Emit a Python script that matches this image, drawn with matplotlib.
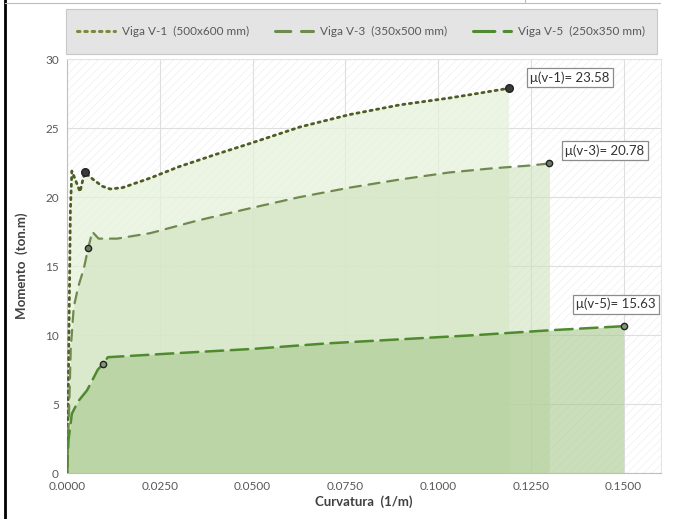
import matplotlib
matplotlib.use('Agg')
import matplotlib.pyplot as plt
from matplotlib.patches import Rectangle
from matplotlib.lines import Line2D

plt.rcParams['font.family'] = ['Lato', 'DejaVu Sans']
plt.rcParams['hatch.linewidth'] = 0.4
plt.rcParams['hatch.color'] = '#ececec'

# ── datos ───────────────────────────────────────────────────────
v1_x = [0.0, 0.0003, 0.0006, 0.0009, 0.0013, 0.0022, 0.0035, 0.0042, 0.0048,
        0.0070, 0.0095, 0.0116, 0.015, 0.0225, 0.030, 0.040, 0.0493, 0.0628,
        0.0762, 0.0897, 0.1031, 0.110, 0.119]
v1_y = [0.0, 5.0, 12.0, 19.0, 21.9, 21.3, 20.4, 21.2, 21.8,
        21.3, 20.8, 20.6, 20.7, 21.4, 22.2, 23.1, 23.9, 25.1,
        26.0, 26.7, 27.2, 27.5, 27.9]

v3_x = [0.0, 0.0005, 0.0010, 0.0018, 0.0030, 0.0045, 0.0057, 0.0068,
        0.0085, 0.0135, 0.0225, 0.035, 0.0493, 0.0625, 0.0762, 0.090,
        0.1031, 0.1147, 0.1247, 0.130]
v3_y = [0.0, 4.0, 9.0, 12.0, 13.5, 14.8, 16.3, 17.5,
        17.0, 17.0, 17.4, 18.3, 19.2, 20.0, 20.7, 21.3,
        21.8, 22.1, 22.3, 22.45]

v5_x = [0.0, 0.0004, 0.0013, 0.0030, 0.0054, 0.0083, 0.0097, 0.011,
        0.030, 0.050, 0.070, 0.090, 0.110, 0.130, 0.150]
v5_y = [0.0, 2.4, 4.3, 5.2, 6.0, 7.5, 7.9, 8.4,
        8.7, 9.0, 9.4, 9.7, 10.0, 10.35, 10.65]

labels = ['Viga V-1  (500x600 mm)', 'Viga V-3  (350x500 mm)', 'Viga V-5  (250x350 mm)']
ductilidad = ['23.58', '20.78', '15.63']
etiquetas_mu = ['(v-1)', '(v-3)', '(v-5)']

# puntos de fluencia (marcadores)
yield_x = [0.0048, 0.0057, 0.0097]
yield_y = [21.8, 16.3, 7.9]

x_ticks = [0.0, 0.025, 0.05, 0.075, 0.10, 0.125, 0.15]
x_tick_labels = ['0.0000', '0.0250', '0.0500', '0.0750', '0.1000', '0.1250', '0.1500']
y_ticks = [0, 5, 10, 15, 20, 25, 30]

# ── estilos ─────────────────────────────────────────────────────
line_colors = ['#4e5d23', '#6f8a4f', '#4f8a2e']
fill_colors = ['#e6f1da', '#cfe3bd', '#a9c98f']
fill_alpha = [0.75, 0.6, 0.6]
line_styles = [(0, (0.8, 1.6)), (0, (5, 3.5)), (0, (7, 3))]
line_widths = [2.0, 1.6, 1.8]
mk_colors = ['#3a3a3a', '#6b7b66', '#7f9977']
mk_sizes = [5.5, 4.5, 4.5]
label_pos = [(0.1355, 28.7), (0.1449, 23.4), (0.1480, 12.25)]

fig = plt.figure(figsize=(6.84, 5.19), dpi=100)
fig.patch.set_facecolor('white')
ax = fig.add_axes([0.098, 0.0886, 0.868, 0.797])
ax.set_facecolor('white')
ax.add_patch(Rectangle((0, 0), 1, 1, transform=ax.transAxes, facecolor='none',
                       edgecolor='#ececec', hatch='////', linewidth=0, zorder=0))

series = [(v1_x, v1_y), (v3_x, v3_y), (v5_x, v5_y)]
for i, (xs, ys) in enumerate(series):
    ax.fill_between(xs, 0, ys, color=fill_colors[i], alpha=fill_alpha[i],
                    linewidth=0, zorder=1 + i)
for i, (xs, ys) in enumerate(series):
    ax.plot(xs, ys, color=line_colors[i], linestyle=line_styles[i],
            linewidth=line_widths[i], dash_capstyle='round', zorder=5)
    ax.plot([yield_x[i], xs[-1]], [yield_y[i], ys[-1]], linestyle='none',
            marker='o', markersize=mk_sizes[i], markerfacecolor=mk_colors[i],
            markeredgecolor='#222222', markeredgewidth=1.0, zorder=6)
    ax.text(label_pos[i][0], label_pos[i][1],
            'μ' + etiquetas_mu[i] + '= ' + ductilidad[i],
            ha='center', va='center', fontsize=9.5, color='#333333',
            bbox=dict(boxstyle='square,pad=0.25', facecolor='white',
                      edgecolor='#8c8c8c', linewidth=0.9), zorder=7)

ax.set_xlim(0, 0.16)
ax.set_ylim(0, 30)
ax.set_xticks(x_ticks)
ax.set_xticklabels(x_tick_labels)
ax.set_yticks(y_ticks)
ax.tick_params(length=0, labelsize=8.5, labelcolor='#595959', pad=6)
ax.grid(True, color='#dedede', linewidth=0.8, zorder=0)
ax.set_axisbelow(True)
for s in ['top', 'right']:
    ax.spines[s].set_color('#e4e4e4')
for s in ['left', 'bottom']:
    ax.spines[s].set_color('#bfbfbf')

ax.set_xlabel('Curvatura  (1/m)', fontsize=9.5, fontweight='bold', color='#404040', labelpad=2)
ax.set_ylabel('Momento  (ton.m)', fontsize=9.5, fontweight='bold', color='#404040', labelpad=12)

# ── leyenda en caja gris ────────────────────────────────────────
fig.add_artist(Rectangle((0.0965, 0.896), 0.864, 0.087, transform=fig.transFigure,
                         facecolor='#e4e4e4', edgecolor='#c8c8c8', linewidth=0.8))
handles = [Line2D([], [], color=line_colors[i], linestyle=line_styles[i],
                  linewidth=2.2, dash_capstyle='round') for i in range(3)]
handles[0].set_color('#7a8a3a')
fig.legend(handles, labels, loc='center', bbox_to_anchor=(0.528, 0.9395), ncol=3,
           frameon=False, fontsize=8.5, labelcolor='#595959', handlelength=3.2,
           columnspacing=2.2, handletextpad=0.6)

# marco exterior
fig.add_artist(Line2D([0.007, 0.007], [0, 1], transform=fig.transFigure,
                      color='black', linewidth=2))
fig.add_artist(Line2D([0.007, 0.965], [0.994, 0.994], transform=fig.transFigure,
                      color='#bdbdbd', linewidth=0.8))
fig.add_artist(Line2D([0.768, 0.768], [0.994, 1.0], transform=fig.transFigure,
                      color='#bdbdbd', linewidth=0.8))

fig.savefig('out.png', dpi=100, facecolor='white')
